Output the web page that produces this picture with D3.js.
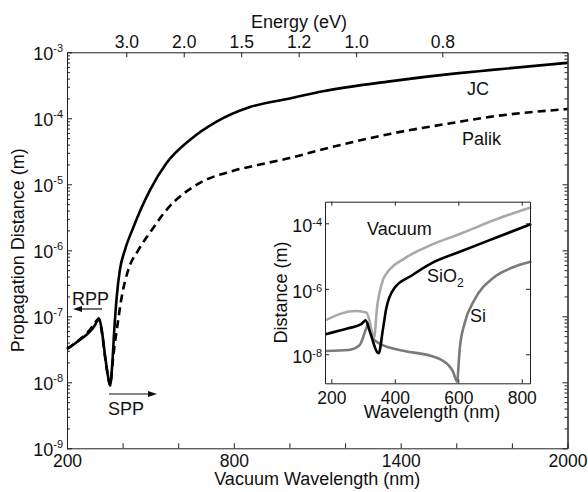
<!DOCTYPE html>
<html>
<head>
<meta charset="utf-8">
<script src="https://cdn.jsdelivr.net/npm/d3@7"></script>
<style>
  body { margin: 0; background: #fff; }
  svg { display: block; font-family: "Liberation Sans", Arial, sans-serif; }
  .axis path, .axis line { stroke: #222; }
</style>
</head>
<body>
<div id="chart"></div>
<script>
// main panel: propagation distance vs vacuum wavelength
const jcWavelength = [200, 247, 283, 301, 315, 325, 337, 348, 355, 363, 370, 379, 390, 408, 438, 498, 558, 642, 738, 858, 1001, 1121, 1361, 1600, 1720, 2000];
const jcDistance = [3.2e-8, 4.4e-8, 5.9e-8, 7.4e-8, 9.3e-8, 6.2e-8, 2.5e-8, 1.2e-8, 9.0e-9, 1.95e-8, 6.2e-8, 2.0e-7, 5.0e-7, 1.0e-6, 2.2e-6, 8.1e-6, 2.1e-5, 4.7e-5, 8.9e-5, 1.48e-4, 2.0e-4, 2.57e-4, 3.63e-4, 4.79e-4, 5.37e-4, 6.92e-4];
const palikWavelength = [200, 247, 283, 301, 313, 325, 337, 348, 355, 363, 371, 379, 397, 420, 456, 500, 558, 678, 798, 918, 1001, 1121, 1361, 1600, 1720, 2000];
const palikDistance = [3.2e-8, 4.5e-8, 6.3e-8, 8.0e-8, 9.1e-8, 5.9e-8, 2.4e-8, 1.2e-8, 9.0e-9, 1.8e-8, 3.6e-8, 6.2e-8, 2.0e-7, 5.0e-7, 1.0e-6, 1.9e-6, 4.1e-6, 1.05e-5, 1.6e-5, 2.1e-5, 2.5e-5, 3.4e-5, 5.8e-5, 8.7e-5, 1.05e-4, 1.38e-4];
const wavelengthTicks = [200, 400, 600, 800, 1000, 1200, 1400, 1600, 1800, 2000];
const wavelengthLabels = [200, 800, 1400, 2000];
const energyTicks = [3.0, 2.0, 1.5, 1.2, 1.0, 0.8];
const distanceExponents = [-3, -4, -5, -6, -7, -8, -9];

// inset: distance vs wavelength for three substrates
const vacuumWavelength = [182, 273, 310, 321, 328, 334, 345, 363, 378, 431, 515, 609, 714, 830];
const vacuumDistance = [1.1e-7, 2.1e-7, 1.9e-7, 1.0e-7, 4.6e-8, 3.1e-8, 3.2e-7, 1.9e-6, 3.3e-6, 8.5e-6, 2.2e-5, 4.9e-5, 1.26e-4, 3.1e-4];
const sio2Wavelength = [182, 253, 294, 308, 321, 349, 363, 373, 399, 452, 515, 609, 714, 830];
const sio2Distance = [4.1e-8, 6.2e-8, 8.3e-8, 1.1e-7, 5.0e-8, 1.07e-8, 6.2e-8, 2.5e-7, 1.05e-6, 2.5e-6, 6.0e-6, 1.4e-5, 3.5e-5, 9.5e-5];
const siWavelength = [182, 253, 289, 310, 317, 331, 357, 431, 515, 546, 583, 597, 601, 605, 620, 651, 714, 777, 830];
const siDistance = [1.26e-8, 1.35e-8, 1.9e-8, 6.2e-8, 8.9e-8, 3.1e-8, 2.0e-8, 1.26e-8, 8.9e-9, 6.8e-9, 3.0e-9, 1.45e-9, 5.0e-9, 1.6e-8, 8.9e-8, 4.6e-7, 2.3e-6, 4.7e-6, 6.8e-6];
const insetTicks = [200, 400, 600, 800];
const insetExponents = [-4, -6, -8];

const W = 588, H = 492;
const svg = d3.select('#chart').append('svg').attr('width', W).attr('height', H);
const ink = '#111';

const box = { left: 67, right: 567.5, top: 52.3, bottom: 448.3 };
const x = d3.scaleLinear().domain([200, 2000]).range([box.left, box.right]);
const y = d3.scaleLog().domain([1e-9, 1e-3]).range([box.bottom, box.top]);

function superLabel(g, base, exp, px, py, anchor, rise, size) {
  const t = g.append('text').attr('x', px).attr('y', py)
    .attr('text-anchor', anchor).attr('font-size', size).attr('fill', ink);
  t.append('tspan').text(base);
  t.append('tspan').attr('dy', -rise).attr('font-size', 11).text(exp);
  return t;
}

const main = svg.append('g');
const majors = y.ticks().filter(v => Math.abs(Math.log10(v) - Math.round(Math.log10(v))) < 1e-9);
const minors = y.ticks().filter(v => !majors.includes(v));

// axes with inward ticks
main.append('g').attr('class', 'axis').attr('transform', `translate(0,${box.bottom})`)
  .call(d3.axisBottom(x).tickValues(wavelengthTicks).tickSizeInner(-5).tickSizeOuter(0).tickPadding(6)
    .tickFormat(d => wavelengthLabels.includes(d) ? d : ''));
main.append('g').attr('class', 'axis').attr('transform', `translate(0,${box.top})`)
  .call(d3.axisTop(x).tickValues(energyTicks.map(e => 1239.84 / e)).tickSizeInner(-5).tickSizeOuter(0).tickPadding(4)
    .tickFormat((d, i) => energyTicks[i].toFixed(1)));
main.append('g').attr('class', 'axis').attr('transform', `translate(${box.left},0)`)
  .call(d3.axisLeft(y).tickValues(majors).tickSizeInner(-5).tickSizeOuter(0).tickFormat(''));
main.append('g').attr('class', 'axis').attr('transform', `translate(${box.left},0)`)
  .call(d3.axisLeft(y).tickValues(minors).tickSizeInner(-3).tickSizeOuter(0).tickFormat(''));
main.append('g').attr('class', 'axis').attr('transform', `translate(${box.right},0)`)
  .call(d3.axisRight(y).tickValues(majors).tickSizeInner(-5).tickSizeOuter(0).tickFormat(''));
main.append('g').attr('class', 'axis').attr('transform', `translate(${box.right},0)`)
  .call(d3.axisRight(y).tickValues(minors).tickSizeInner(-3).tickSizeOuter(0).tickFormat(''));
main.selectAll('.axis text').attr('font-size', 17.5).attr('fill', ink).attr('font-family', null);

distanceExponents.forEach(e => superLabel(main, '10', String(e), box.left - 4, y(Math.pow(10, e)) + 7.5, 'end', 8, 18));

main.append('text').attr('x', 299).attr('y', 28).attr('text-anchor', 'middle')
  .attr('font-size', 18).attr('fill', ink).text('Energy (eV)');
main.append('text').attr('x', (box.left + box.right) / 2).attr('y', 485).attr('text-anchor', 'middle')
  .attr('font-size', 18).attr('fill', ink).text('Vacuum Wavelength (nm)');
main.append('text').attr('transform', `translate(24,${(box.top + box.bottom) / 2}) rotate(-90)`)
  .attr('text-anchor', 'middle').attr('font-size', 18).attr('fill', ink).text('Propagation Distance (m)');

const line = d3.line().x(d => x(d[0])).y(d => y(d[1])).curve(d3.curveMonotoneX);
main.append('path').datum(d3.zip(palikWavelength, palikDistance))
  .attr('d', line).attr('fill', 'none').attr('stroke', '#000').attr('stroke-width', 2.6)
  .attr('stroke-dasharray', '8,5');
main.append('path').datum(d3.zip(jcWavelength, jcDistance))
  .attr('d', line).attr('fill', 'none').attr('stroke', '#000').attr('stroke-width', 2.6);

main.append('text').attr('x', 467).attr('y', 95).attr('font-size', 18).attr('fill', ink).text('JC');
main.append('text').attr('x', 462).attr('y', 145).attr('font-size', 18).attr('fill', ink).text('Palik');

// RPP / SPP arrows
function arrow(x0, x1, yy) {
  const dir = Math.sign(x1 - x0);
  main.append('line').attr('x1', x0).attr('x2', x1 - dir * 6).attr('y1', yy).attr('y2', yy)
    .attr('stroke', ink).attr('stroke-width', 1.2);
  main.append('path').attr('d', `M${x1},${yy} L${x1 - dir * 9},${yy - 3} L${x1 - dir * 9},${yy + 3} Z`).attr('fill', ink);
}
arrow(102, 73, 309);
main.append('text').attr('x', 72).attr('y', 305).attr('font-size', 18).attr('fill', ink).text('RPP');
arrow(109, 157, 394);
main.append('text').attr('x', 108).attr('y', 415).attr('font-size', 18).attr('fill', ink).text('SPP');

// inset
const ib = { left: 325, right: 530, top: 201.7, bottom: 383.3 };
const ix = d3.scaleLinear().domain([180, 826]).range([ib.left, ib.right]);
const iy = d3.scaleLog().domain([1.3e-9, 4.57e-4]).range([ib.bottom, ib.top]);
const inset = svg.append('g');
inset.append('rect').attr('x', ib.left).attr('y', ib.top)
  .attr('width', ib.right - ib.left).attr('height', ib.bottom - ib.top).attr('fill', '#fff');

const iline = d3.line().x(d => ix(d[0])).y(d => iy(d[1])).curve(d3.curveMonotoneX);
const insetSeries = [
  { w: siWavelength, v: siDistance, color: '#7a7a7a' },
  { w: vacuumWavelength, v: vacuumDistance, color: '#a9a9a9' },
  { w: sio2Wavelength, v: sio2Distance, color: '#000' }
];
inset.selectAll('path.series').data(insetSeries).join('path').attr('class', 'series')
  .attr('d', d => iline(d3.zip(d.w, d.v))).attr('fill', 'none')
  .attr('stroke', d => d.color).attr('stroke-width', 2.6);

const insetMajors = insetExponents.map(e => Math.pow(10, e));
inset.append('g').attr('class', 'axis').attr('transform', `translate(0,${ib.bottom})`)
  .call(d3.axisBottom(ix).tickValues(insetTicks).tickSizeInner(-4).tickSizeOuter(0).tickPadding(8));
inset.append('g').attr('class', 'axis').attr('transform', `translate(0,${ib.top})`)
  .call(d3.axisTop(ix).tickValues(insetTicks).tickSizeInner(-4).tickSizeOuter(0).tickFormat(''));
inset.append('g').attr('class', 'axis').attr('transform', `translate(${ib.left},0)`)
  .call(d3.axisLeft(iy).tickValues(insetMajors).tickSizeInner(-4).tickSizeOuter(0).tickFormat(''));
inset.append('g').attr('class', 'axis').attr('transform', `translate(${ib.right},0)`)
  .call(d3.axisRight(iy).tickValues(insetMajors).tickSizeInner(-4).tickSizeOuter(0).tickFormat(''));
inset.selectAll('.axis path, .axis line').attr('stroke', '#444');
inset.selectAll('.axis text').attr('font-size', 17.5).attr('fill', ink).attr('font-family', null);

insetExponents.forEach(e => superLabel(inset, '10', String(e), ib.left - 3, iy(Math.pow(10, e)) + 9, 'end', 6, 18));

inset.append('text').attr('x', 432).attr('y', 418).attr('text-anchor', 'middle')
  .attr('font-size', 18).attr('fill', ink).text('Wavelength (nm)');
inset.append('text').attr('transform', `translate(287,${(ib.top + ib.bottom) / 2}) rotate(-90)`)
  .attr('text-anchor', 'middle').attr('font-size', 18).attr('fill', ink).text('Distance (m)');

inset.append('text').attr('x', 367).attr('y', 235).attr('font-size', 18).attr('fill', ink).text('Vacuum');
const sio2 = inset.append('text').attr('x', 427).attr('y', 282).attr('font-size', 18).attr('fill', ink);
sio2.append('tspan').text('SiO');
sio2.append('tspan').attr('dy', 5).attr('font-size', 12).text('2');
inset.append('text').attr('x', 470).attr('y', 322).attr('font-size', 18).attr('fill', ink).text('Si');
</script>
</body>
</html>
